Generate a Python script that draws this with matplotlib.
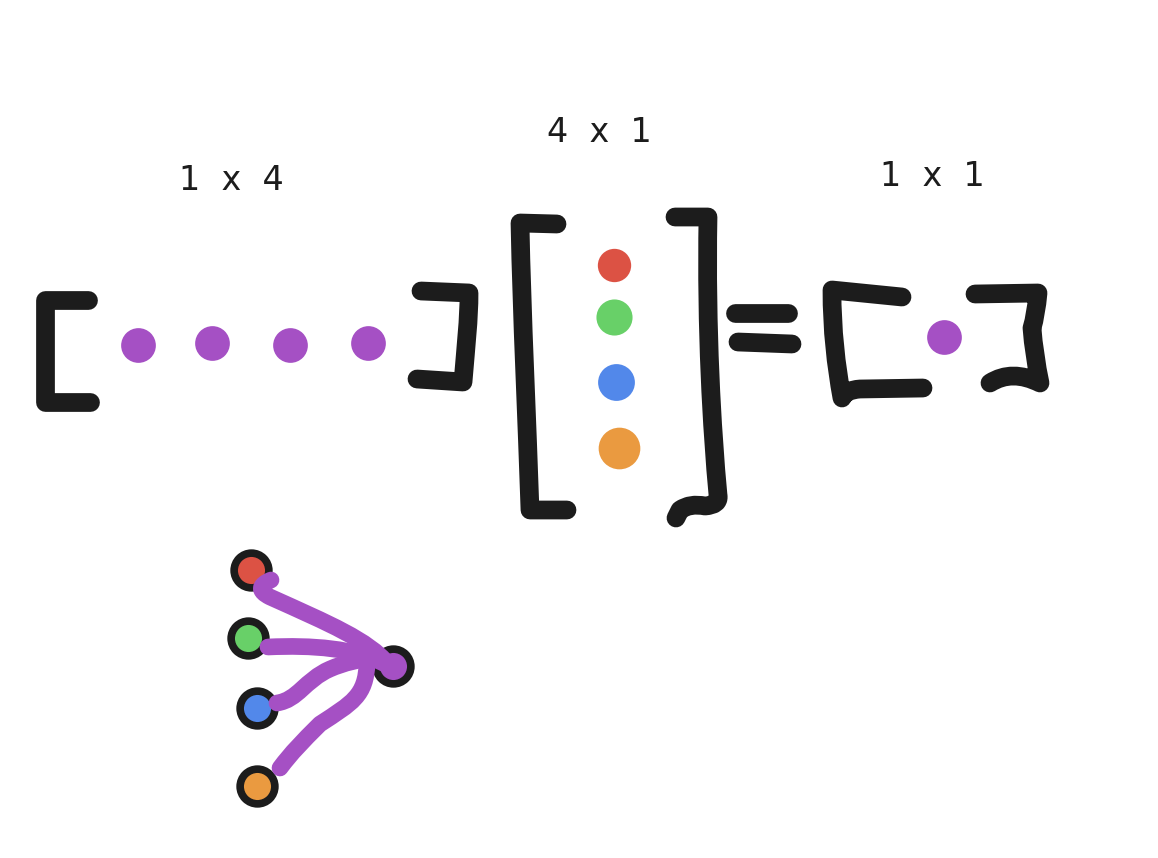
import matplotlib.pyplot as plt
from matplotlib.path import Path
from matplotlib.patches import PathPatch

# canvas in pixel units of the reference (y grows downward)
W, H = 1158, 858

INK = '#1c1c1c'
PURPLE = '#a550c4'
RED = '#dc5244'
GREEN = '#68d068'
BLUE = '#5288ea'
ORANGE = '#ea9a40'

# labels: text, x, y
labels = ['1  x  4', '4  x  1', '1  x  1']
label_x = [231, 599, 932]
label_y = [181, 132, 176]

# row vector (1 x 4): purple entries
row_x = [138, 212, 290, 368]
row_y = [345, 343, 345, 343]

# column vector (4 x 1)
col_x = [614, 614, 616, 619]
col_y = [265, 317, 382, 448]
col_colors = [RED, GREEN, BLUE, ORANGE]
col_sizes = [24, 26, 26.5, 30]

# result (1 x 1)
res_x = [944]
res_y = [337]

# hand drawn strokes: 'M' move, 'L' line, 'Q' quadratic, 'C' cubic bezier
brackets = [
    [('M', (88, 300)), ('L', (45, 300)), ('L', (45, 402)), ('L', (90, 402))],
    [('M', (421, 291)), ('L', (469, 293)), ('C', (469, 320), (466, 345), (463, 382)),
     ('L', (417, 379))],
    [('M', (557, 224)), ('L', (520, 223)), ('C', (522, 320), (527, 420), (530, 510)),
     ('L', (567, 510))],
    [('M', (675, 217)), ('L', (708, 217)), ('C', (706, 330), (712, 430), (718, 495)),
     ('Q', (720, 505), (705, 506)), ('Q', (690, 503), (680, 510)), ('L', (676, 518))],
    [('M', (902, 297)), ('L', (832, 290)), ('C', (832, 330), (836, 365), (842, 398)),
     ('Q', (845, 390), (860, 389)), ('L', (923, 388))],
    [('M', (975, 294)), ('L', (1038, 293)), ('Q', (1036, 315), (1032, 328)),
     ('Q', (1034, 355), (1040, 383)), ('Q', (1012, 369), (990, 383))],
    [('M', (735, 313)), ('L', (788, 313))],
    [('M', (738, 342)), ('L', (792, 344))],
]

# small network: inputs, output and purple links
node_x = [251, 248, 257, 257]
node_y = [570, 638, 708, 786]
node_colors = [RED, GREEN, BLUE, ORANGE]
out_x, out_y = 393, 666

links = [
    [('M', (271, 580)), ('Q', (252, 588), (270, 597)),
     ('C', (330, 624), (368, 640), (388, 664))],
    [('M', (268, 647)), ('C', (312, 645), (355, 648), (385, 664))],
    [('M', (277, 703)), ('C', (298, 700), (305, 680), (330, 669)),
     ('Q', (350, 660), (380, 657))],
    [('M', (280, 768)), ('C', (292, 752), (302, 742), (320, 724)),
     ('C', (352, 703), (366, 696), (367, 663))],
]


def stroke_path(segments):
    verts, codes = [], []
    for seg in segments:
        kind, pts = seg[0], seg[1:]
        verts.extend(pts)
        if kind == 'M':
            codes.append(Path.MOVETO)
        elif kind == 'L':
            codes.append(Path.LINETO)
        elif kind == 'Q':
            codes.extend([Path.CURVE3] * 2)
        else:
            codes.extend([Path.CURVE4] * 3)
    return Path(verts, codes)


fig = plt.figure(figsize=(W / 100, H / 100), dpi=100)
ax = fig.add_axes([0, 0, 1, 1])
ax.set_xlim(0, W)
ax.set_ylim(H, 0)
ax.axis('off')

for segs in brackets:
    ax.add_patch(PathPatch(stroke_path(segs), fill=False, ec=INK, lw=13.5,
                           capstyle='round', joinstyle='round'))

for text, x, y in zip(labels, label_x, label_y):
    ax.text(x, y, text, fontsize=24, color=INK, ha='center', va='center')

ax.plot(row_x, row_y, 'o', color=PURPLE, ms=25, mew=0)
for x, y, c, s in zip(col_x, col_y, col_colors, col_sizes):
    ax.plot(x, y, 'o', color=c, ms=s, mew=0)
ax.plot(res_x, res_y, 'o', color=PURPLE, ms=25, mew=0)

# network
for x, y, c in zip(node_x, node_y, node_colors):
    ax.plot(x, y, 'o', mfc=c, mec=INK, ms=25, mew=5.5, zorder=3)
ax.plot(out_x, out_y, 'o', mfc=PURPLE, mec=INK, ms=25, mew=5.5, zorder=3)
for segs in links:
    ax.add_patch(PathPatch(stroke_path(segs), fill=False, ec=PURPLE, lw=12,
                           capstyle='round', joinstyle='round', zorder=4))

fig.savefig('out.png', dpi=100, facecolor='white')
